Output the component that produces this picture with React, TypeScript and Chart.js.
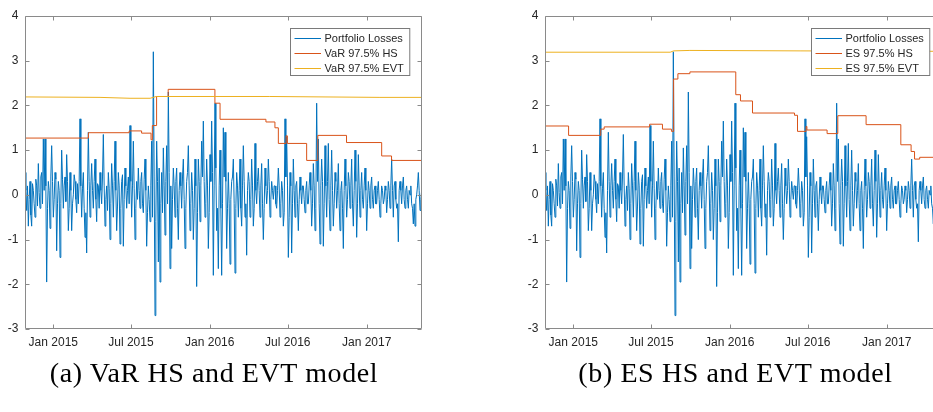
import React, { useEffect, useRef } from "react";
import { Chart, registerables } from "chart.js";

Chart.register(...registerables);

// x positions are days relative to 2015-01-01
const X_START = -66; // 2014-10-27
const X_END = 859.3; // 2017-05-09

const tickDates = ["2015-01-01", "2015-07-01", "2016-01-01", "2016-07-01", "2017-01-01"];
const tickLabels = ["Jan 2015", "Jul 2015", "Jan 2016", "Jul 2016", "Jan 2017"];
const yTicks = [-3, -2, -1, 0, 1, 2, 3, 4];

const losses = [
  0.5, 0.1, -0.35, 0.2, -0.7, -0.1, 0.3, -0.45, -0.7, 0.25, 0.1, -0.2, -0.5, 0.35, 0.2, -0.25, 0.7, 0.05, -0.3, 0.4,
  0.5, -0.2, 1.25, 0.1, 1.25, 0.2, -1.95, -0.3, 0.3, 0.1, -0.75, 0.4, 1.1, 0.3, -0.5, -0.1, 0.5, 0.35, -1.25, -0.2,
  0.3, 0.1, -1.4, -0.2, 1.0, 0.35, -0.3, 0.2, 0.4, -0.15, 0.9, 0.3, -0.8, -0.3, 0.5, 0.1, -0.8, -0.2, 0.0, 0.45,
  0.3, -0.1, -0.4, 0.25, -0.2, 0.3, 1.7, 0.2, -0.5, 0.15, 0.5, -0.3, -0.95, -0.4, -1.3, 0.1, 1.4, 0.3, -0.5, 0.2,
  0.7, 0.1, -0.3, 0.3, 0.8, -0.1, -0.6, 0.25, 0.2, -0.3, 0.5, 0.1, -0.2, 0.4, 1.35, 0.2, -0.7, -0.1, 0.2, -0.35,
  0.5, 0.15, -1.0, -0.2, 0.7, 0.2, -0.5, 0.3, 1.2, 0.1, -0.8, -0.25, 0.5, 0.2, -1.1, -0.3, 0.3, 0.45, -1.15, -0.1,
  0.6, 0.2, -0.3, 0.1, 0.4, -0.2, 1.55, 0.3, -0.5, 0.2, 1.2, 0.15, -1.0, -0.3, 0.3, -0.1, 0.6, 0.1, -0.3, 0.3,
  0.5, -0.2, -0.4, 0.35, 0.8, 0.1, -1.15, -0.4, 0.2, -0.1, -0.6, 0.2, 1.2, -0.5, 3.2, 0.4, -2.7, -0.6, 1.2, 0.3,
  -1.5, 0.6, -1.95, -0.2, 0.5, -0.4, 1.05, 0.2, -0.9, 0.3, 1.1, -0.2, 2.3, 0.5, -1.65, 0.2, -1.2, -0.1, 0.6, 0.2,
  -0.5, 0.3, 0.6, -0.3, -1.0, 0.1, 0.5, 0.2, -0.3, 0.4, 0.8, -0.1, -1.2, -0.3, 0.3, 0.5, 1.1, 0.2, -0.8, -0.2,
  0.5, 0.1, -1.0, -0.3, 0.8, 0.2, -2.05, -0.4, 0.8, 0.3, -0.6, 0.2, 1.2, 0.4, 1.65, 0.3, -0.5, -0.2, 0.8, 0.2,
  -1.2, -0.4, 0.9, 0.3, 1.65, 0.5, -1.8, 0.2, 2.05, 0.6, -0.8, -0.3, -1.65, 0.2, 1.0, -0.3, -1.8, -0.2, 1.5, 0.4,
  1.4, 0.3, -1.2, -0.3, 0.5, -0.2, -1.55, -0.1, 0.3, 0.4, 0.8, -0.2, -1.75, -0.3, 0.5, 0.2, -0.5, 0.1, 0.8, -0.3,
  -0.7, 0.2, 1.1, 0.3, -0.5, -0.2, -1.35, 0.1, 0.5, 0.3, -0.5, -0.1, 0.8, 0.2, -0.7, -0.3, 1.15, 0.1, -0.2, 0.3,
  0.6, 0.1, -0.5, 0.2, 0.7, -0.2, -1.0, -0.3, 0.6, 0.2, -0.2, 0.1, 0.8, 0.3, -0.5, -0.1, 0.3, 0.1, -0.1, 0.2,
  0.2, -0.2, -0.3, 0.1, 0.6, 0.2, -0.5, -0.2, 0.3, 0.1, -0.7, -0.4, 1.7, 0.4, 1.3, 0.2, -1.4, -0.5, 0.5, 0.2,
  -1.3, -0.2, 0.8, 0.1, -0.5, 0.2, 0.3, -0.2, -0.8, -0.1, 0.4, 0.1, -0.2, 0.2, 0.2, -0.1, -0.4, 0.1, 0.3, -0.2,
  -0.2, 0.2, 0.5, 0.1, -0.7, -0.2, 0.7, 0.2, -0.8, -0.3, 2.05, 0.3, 1.25, -0.2, -1.1, 0.2, 0.8, 0.3, -1.15, -0.2,
  1.1, 0.2, -0.5, 0.3, 1.15, -0.1, -0.8, 0.2, 1.0, 0.1, -0.7, -0.2, 0.5, 0.3, -0.3, 0.1, 0.7, -0.2, -0.8, 0.1,
  0.3, -0.3, -1.2, 0.1, 0.8, 0.2, -0.5, -0.1, 0.5, 0.3, -0.3, 0.2, 0.8, -0.2, -0.7, 0.1, 1.0, 0.3, -0.95, -0.2,
  0.9, 0.2, -0.5, 0.1, 0.5, -0.1, -0.3, 0.2, 0.6, 0.1, -0.8, -0.2, 0.3, 0.1, -0.3, 0.2, 0.4, -0.1, -0.3, 0.1,
  0.2, -0.2, -0.2, 0.1, 0.3, -0.1, -0.5, -0.2, 0.2, 0.1, -0.2, -0.1, 0.2, 0.1, -0.4, -0.1, 0.3, 0.1, -0.3, 0.2,
  0.8, 0.1, -0.5, 0.2, 0.3, -0.1, -0.3, -0.2, -1.05, 0.1, 0.3, 0.1, -0.2, 0.2, 0.4, -0.1, -0.3, 0.1, 0.2, -0.1,
  -0.3, 0.1, 0.0, 0.2, -0.2, -0.3, -0.65, -0.2, -0.7, -0.1, 0.0, 0.2, 0.5, 0.1, -0.35, -0.1, 0.1,
];

const varHsDays = [-66, 82, 177, 206, 228, 231, 241, 268, 377, 389, 496, 517, 525, 543, 546, 591, 617, 684, 766, 789, 859.3];
const varHsValues = [1.27, 1.39, 1.43, 1.38, 1.23, 1.55, 2.2, 2.36, 2.05, 1.69, 1.63, 1.5, 1.15, 1.32, 1.15, 0.77, 1.33, 1.17, 0.87, 0.77, 0.77];

const varEvtDays = [-66, 109, 179, 226, 240, 505, 762, 859.3];
const varEvtValues = [2.19, 2.18, 2.16, 2.16, 2.2, 2.2, 2.18, 2.18];

const esHsDays = [-66, -11, 64, 72, 178, 208, 229, 234, 244, 272, 379, 390, 418, 516, 523, 543, 545, 592, 617, 683, 764, 788, 796, 808, 859.3];
const esHsValues = [1.54, 1.33, 1.47, 1.52, 1.58, 1.47, 1.42, 2.59, 2.71, 2.75, 2.24, 2.1, 1.83, 1.78, 1.42, 1.53, 1.45, 1.37, 1.77, 1.57, 1.12, 0.97, 0.8, 0.84, 0.84];

const esEvtDays = [-66, 226, 234, 272, 529, 859.3];
const esEvtValues = [3.19, 3.19, 3.22, 3.23, 3.22, 3.21];

const BLUE = "#0072BD";
const ORANGE = "#D95319";
const YELLOW = "#EDB120";
const AXIS_COLOR = "#8a8a8a";
const TEXT_COLOR = "#262626";
const SANS = '"Liberation Sans", Arial, Helvetica, sans-serif';

const dayOf = (d: string) => (Date.parse(d) - Date.parse("2015-01-01")) / 86400000;
const tickDays = tickDates.map(dayOf);

const pairs = (xs: number[], ys: number[]) => xs.map((x, i) => ({ x, y: ys[i] }));
const lossPoints = () =>
  losses.map((y, i) => ({ x: X_START + (i * (X_END - X_START)) / (losses.length - 1), y }));

const CANVAS_W = 466;
const CANVAS_H = 360;

const framePlugin = {
  id: "matlabFrame",
  afterDatasetsDraw(chart: any) {
    const { ctx, chartArea: a, scales } = chart;
    ctx.save();
    ctx.strokeStyle = AXIS_COLOR;
    ctx.lineWidth = 1;
    const L = Math.round(a.left) + 0.5;
    const R = Math.round(a.right) - 0.5;
    const T = Math.round(a.top) + 0.5;
    const B = Math.round(a.bottom) - 0.5;
    ctx.beginPath();
    ctx.rect(L, T, R - L, B - T);
    for (const v of yTicks) {
      const y = Math.round(scales.y.getPixelForValue(v)) + 0.5;
      ctx.moveTo(L, y);
      ctx.lineTo(L + 4, y);
      ctx.moveTo(R, y);
      ctx.lineTo(R - 4, y);
    }
    for (const d of tickDays) {
      const x = Math.round(scales.x.getPixelForValue(d)) + 0.5;
      ctx.moveTo(x, B);
      ctx.lineTo(x, B - 4);
      ctx.moveTo(x, T);
      ctx.lineTo(x, T + 4);
    }
    ctx.stroke();

    // legend box
    ctx.font = "11px " + SANS;
    const ds = chart.data.datasets;
    let maxW = 0;
    for (const d of ds) maxW = Math.max(maxW, ctx.measureText(d.label).width);
    const boxW = 34 + maxW + 6;
    const boxH = 47;
    const bx = Math.round(a.right - 12.5 - boxW) + 0.5;
    const by = Math.round(a.top + 12.3) + 0.5;
    ctx.fillStyle = "#ffffff";
    ctx.fillRect(bx, by, boxW, boxH);
    ctx.strokeStyle = "#7a7a7a";
    ctx.strokeRect(bx, by, boxW, boxH);
    ds.forEach((d: any, i: number) => {
      const y = Math.round(by + 9 + i * 15) + 0.5;
      ctx.strokeStyle = d.borderColor;
      ctx.lineWidth = 1;
      ctx.beginPath();
      ctx.moveTo(bx + 4, y);
      ctx.lineTo(bx + 30.5, y);
      ctx.stroke();
      ctx.fillStyle = TEXT_COLOR;
      ctx.textBaseline = "middle";
      ctx.textAlign = "left";
      ctx.fillText(d.label, bx + 34, y + 0.5);
    });
    ctx.restore();
  },
};

type PanelProps = {
  left: number;
  hsLabel: string;
  evtLabel: string;
  hsDays: number[];
  hsValues: number[];
  evtDays: number[];
  evtValues: number[];
};

function Panel(p: PanelProps) {
  const ref = useRef<HTMLCanvasElement | null>(null);
  useEffect(() => {
    if (!ref.current) return;
    const chart = new Chart(ref.current, {
      type: "line",
      data: {
        datasets: [
          {
            label: "Portfolio Losses",
            data: lossPoints(),
            borderColor: BLUE,
            borderWidth: 1,
            pointRadius: 0,
            tension: 0,
            order: 3,
          },
          {
            label: p.hsLabel,
            data: pairs(p.hsDays, p.hsValues),
            borderColor: ORANGE,
            borderWidth: 1,
            pointRadius: 0,
            stepped: "before",
            order: 2,
          },
          {
            label: p.evtLabel,
            data: pairs(p.evtDays, p.evtValues),
            borderColor: YELLOW,
            borderWidth: 1,
            pointRadius: 0,
            tension: 0,
            order: 1,
          },
        ],
      },
      options: {
        animation: false,
        responsive: false,
        maintainAspectRatio: false,
        parsing: false as any,
        layout: { padding: { left: 0, right: CANVAS_W - 421.67, top: 16, bottom: 0 } },
        plugins: { legend: { display: false }, tooltip: { enabled: false } },
        scales: {
          x: {
            type: "linear",
            min: X_START,
            max: X_END,
            grid: { display: false, drawTicks: false },
            border: { display: false },
            afterBuildTicks: (s: any) => {
              s.ticks = tickDays.map((v) => ({ value: v }));
            },
            afterFit: (s: any) => {
              s.height = CANVAS_H - 329;
            },
            ticks: {
              autoSkip: false,
              maxRotation: 0,
              minRotation: 0,
              padding: 6,
              color: TEXT_COLOR,
              font: { family: SANS, size: 12 },
              callback: (_v: any, i: number) => tickLabels[i],
            },
          },
          y: {
            type: "linear",
            min: -3,
            max: 4,
            grid: { display: false, drawTicks: false },
            border: { display: false },
            afterBuildTicks: (s: any) => {
              s.ticks = yTicks.map((v) => ({ value: v }));
            },
            afterFit: (s: any) => {
              s.width = 25;
            },
            ticks: {
              padding: 6.5,
              color: TEXT_COLOR,
              font: { family: SANS, size: 12 },
              callback: (v: any) => String(v),
            },
          },
        },
      },
      plugins: [framePlugin],
    });
    return () => chart.destroy();
  }, []);
  return (
    <canvas
      ref={ref}
      width={CANVAS_W}
      height={CANVAS_H}
      style={{ position: "absolute", left: p.left, top: 0, width: CANVAS_W, height: CANVAS_H }}
    />
  );
}

const captionStyle = (cx: number): React.CSSProperties => ({
  position: "absolute",
  left: cx - 250,
  width: 500,
  top: 359,
  textAlign: "center",
  fontFamily: '"Liberation Serif", "Times New Roman", serif',
  fontSize: 28,
  lineHeight: "28px",
  letterSpacing: "0.6px",
  color: "#000",
  whiteSpace: "nowrap",
});

export default function App() {
  return (
    <div
      style={{
        position: "fixed",
        left: 0,
        top: 0,
        width: 933,
        height: 412,
        overflow: "hidden",
        background: "#fff",
      }}
    >
      <Panel
        left={0}
        hsLabel="VaR 97.5% HS"
        evtLabel="VaR 97.5% EVT"
        hsDays={varHsDays}
        hsValues={varHsValues}
        evtDays={varEvtDays}
        evtValues={varEvtValues}
      />
      <Panel
        left={520}
        hsLabel="ES 97.5% HS"
        evtLabel="ES 97.5% EVT"
        hsDays={esHsDays}
        hsValues={esHsValues}
        evtDays={esEvtDays}
        evtValues={esEvtValues}
      />
      <div style={captionStyle(214)}>(a) VaR HS and EVT model</div>
      <div style={captionStyle(735.5)}>(b) ES HS and EVT model</div>
    </div>
  );
}
